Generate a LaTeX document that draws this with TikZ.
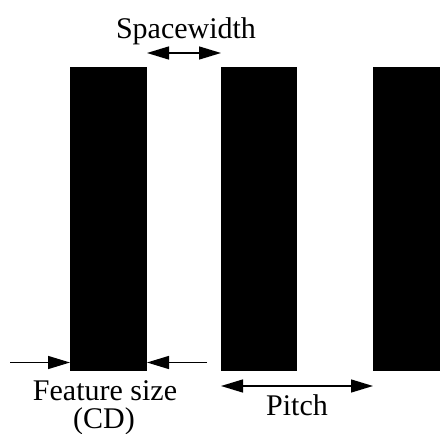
\documentclass[tikz,border=0pt]{standalone}
\usepackage{fontspec}
\setmainfont{Liberation Serif}
\usetikzlibrary{arrows.meta}
\begin{document}
\begin{tikzpicture}[x=1pt,y=-1pt,
  bar/.style={fill=black,draw=none},
  tip/.tip={Triangle[length=22pt,width=13pt]},
  dim/.style={line width=1.4pt,-tip},
  dimboth/.style={line width=1.4pt,tip-tip},
  lbl/.style={anchor=base,inner sep=0pt,font=\fontsize{30}{34}\selectfont}]
\useasboundingbox (0,0) rectangle (440,434);
% lines of the grating
\fill[bar] (70,67) rectangle (147,371);
\fill[bar] (221,67) rectangle (297,371);
\fill[bar] (373,67) rectangle (440,371);
% anchor points for the dimension arrows
\coordinate (b1l) at (70,362.5);
\coordinate (b1r) at (147,362.5);
\coordinate (fl) at (10,362.5);
\coordinate (fr) at (207,362.5);
\coordinate (sl) at (147,53);
\coordinate (sr) at (221,53);
\coordinate (pl) at (221,386);
\coordinate (pr) at (373,386);
% dimensions
\draw[dim] (fl) -- (b1l);
\draw[dim] (fr) -- (b1r);
\draw[dimboth] (sl) -- (sr);
\draw[dimboth] (pl) -- (pr);
% labels
\node[lbl] (space) at (186,38) {Spacewidth};
\node[lbl] (feat) at (105,400) {Feature size};
\node[lbl] (cd) at (104,428) {(CD)};
\node[lbl] (pitch) at (297,415) {Pitch};
\end{tikzpicture}
\end{document}
